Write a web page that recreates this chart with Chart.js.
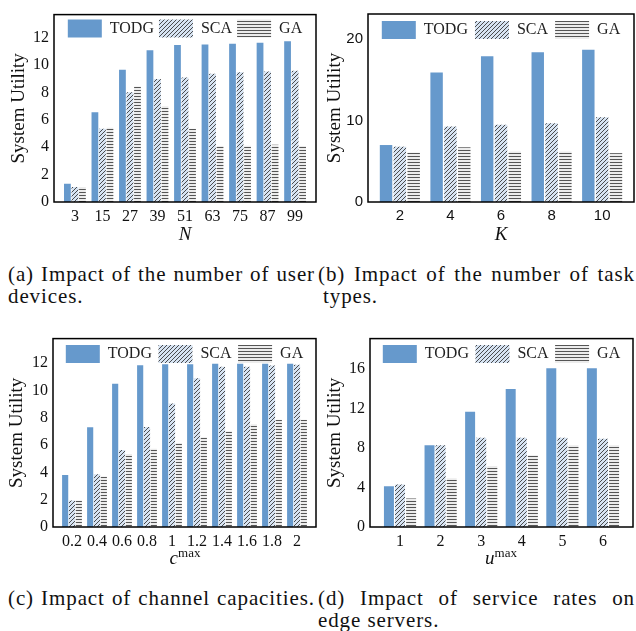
<!DOCTYPE html>
<html lang="en">
<head>
<meta charset="UTF-8">
<title>System Utility</title>
<script src="https://cdn.jsdelivr.net/npm/chart.js"></script>
<style>
  body, html { margin: 0; padding: 0; background: #fff; overflow: hidden; }
  canvas { position: absolute; }
  .cap {
    position: absolute;
    font-family: 'Liberation Serif', serif;
    font-size: 21px;
    line-height: 22px;
    letter-spacing: 0.9px;
    color: #111;
  }
  .cap .l1 { text-align: justify; text-align-last: justify; }
  .xt {
    position: absolute;
    width: 120px;
    text-align: center;
    font-family: 'Liberation Serif', serif;
    font-size: 19px;
    color: #111;
  }
  .xt i { font-style: italic; }
  .xt sup { font-size: 13px; font-style: normal; vertical-align: 7px; line-height: 0; }
</style>
</head>
<body>

<canvas id="chartA" width="318" height="246" style="left:0;top:0"></canvas>
<canvas id="chartB" width="318" height="246" style="left:318px;top:0"></canvas>
<canvas id="chartC" width="318" height="246" style="left:0;top:324px"></canvas>
<canvas id="chartD" width="318" height="246" style="left:318px;top:324px"></canvas>

<div class="xt" style="left:125px;top:547px"><i>c</i><sup>max</sup></div>
<div class="xt" style="left:441px;top:547px"><i>u</i><sup>max</sup></div>

<div class="cap" style="left:8px;top:263px;width:307px">
  <div class="l1">(a) Impact of the number of user</div>
  <div>devices.</div>
</div>
<div class="cap" style="left:318px;top:263px;width:317px">
  <div class="l1">(b) Impact of the number of task</div>
  <div style="padding-left:5px">types.</div>
</div>
<div class="cap" style="left:8px;top:587px;width:307px">
  <div class="l1">(c) Impact of channel capacities.</div>
</div>
<div class="cap" style="left:318px;top:587px;width:317px">
  <div class="l1">(d) Impact of service rates on</div>
  <div>edge servers.</div>
</div>

<script>
  const seriesNames = ['TODG', 'SCA', 'GA'];

  // (a) number of user devices
  const nLabels = ['3', '15', '27', '39', '51', '63', '75', '87', '99'];
  const nTodg = [1.33, 6.57, 9.66, 11.1, 11.47, 11.52, 11.57, 11.64, 11.76];
  const nSca  = [1.09, 5.36, 8.02, 9.0, 9.1, 9.37, 9.49, 9.54, 9.59];
  const nGa   = [1.1, 5.43, 8.45, 7.0, 5.36, 4.1, 4.12, 4.18, 4.1];

  // (b) number of task types
  const kLabels = ['2', '4', '6', '8', '10'];
  const kTodg = [7.0, 15.9, 17.9, 18.4, 18.7];
  const kSca  = [6.8, 9.28, 9.48, 9.68, 10.4];
  const kGa   = [6.08, 6.72, 6.2, 6.2, 6.0];

  // (c) channel capacities
  const cLabels = ['0.2', '0.4', '0.6', '0.8', '1', '1.2', '1.4', '1.6', '1.8', '2'];
  const cTodg = [3.8, 7.3, 10.5, 11.85, 11.93, 11.93, 11.95, 11.95, 11.95, 11.95];
  const cSca  = [1.94, 3.87, 5.64, 7.33, 9.05, 10.89, 11.73, 11.73, 11.83, 11.88];
  const cGa   = [1.94, 3.7, 5.35, 5.73, 6.15, 6.58, 7.02, 7.52, 7.86, 7.86];

  // (d) service rates on edge servers
  const uLabels = ['1', '2', '3', '4', '5', '6'];
  const uTodg = [4.14, 8.28, 11.69, 14.0, 16.1, 16.1];
  const uSca  = [4.31, 8.28, 9.05, 9.05, 9.05, 8.95];
  const uGa   = [2.9, 4.94, 6.18, 7.28, 8.28, 8.28];

  const SERIF = "'Liberation Serif', serif";
  const SANS = "'Liberation Sans', sans-serif";

  function diagPattern(ctx) {
    const t = document.createElement('canvas');
    t.width = 4; t.height = 4;
    const g = t.getContext('2d');
    g.fillStyle = '#d6e3f2';
    g.fillRect(0, 0, 4, 4);
    g.strokeStyle = '#3a3a3a';
    g.lineWidth = 0.9;
    g.beginPath();
    g.moveTo(-1, 5); g.lineTo(5, -1);
    g.moveTo(-1, 1); g.lineTo(1, -1);
    g.moveTo(3, 5); g.lineTo(5, 3);
    g.stroke();
    return ctx.createPattern(t, 'repeat');
  }

  function horizPattern(ctx) {
    const t = document.createElement('canvas');
    t.width = 4; t.height = 3;
    const g = t.getContext('2d');
    g.fillStyle = '#ececec';
    g.fillRect(0, 0, 4, 3);
    g.fillStyle = '#555';
    g.fillRect(0, 0, 4, 1);
    return ctx.createPattern(t, 'repeat');
  }

  // black box round the plot area
  const framePlugin = {
    id: 'frame',
    afterDraw(chart) {
      const { ctx, chartArea: a } = chart;
      ctx.save();
      ctx.strokeStyle = '#000';
      ctx.lineWidth = 1.5;
      ctx.strokeRect(a.left, a.top, a.right - a.left, a.bottom - a.top);
      ctx.restore();
    }
  };

  // legend sits inside the plot area but in one row, like matplotlib's upper-centre legend
  const rowLegend = {
    id: 'rowLegend',
    beforeLayout(chart) {
      if (chart.legend) chart.legend.isHorizontal = () => true;
    },
    afterLayout(chart) {
      const lg = chart.legend, a = chart.chartArea;
      if (!lg) return;
      lg.left = a.left;
      lg.right = a.right;
      lg.top = a.top;
      lg.bottom = a.top + lg.height;
    }
  };

  function makeChart(id, labels, todg, sca, ga, o) {
    const ctx = document.getElementById(id).getContext('2d');
    const fills = ['#6699cc', diagPattern(ctx), horizPattern(ctx)];
    const vals = [todg, sca, ga];
    const last = labels.length - 1;
    const tickFont = o.sans ? { family: SANS, size: 15 } : { family: SERIF, size: 16 };

    new Chart(ctx, {
      type: 'bar',
      data: {
        datasets: seriesNames.map((name, i) => ({
          label: name,
          data: vals[i].map((v, j) => ({ x: j, y: v })),
          backgroundColor: fills[i],
          borderWidth: 0,
          categoryPercentage: 0.82,
          barPercentage: 0.9
        }))
      },
      options: {
        responsive: false,
        animation: false,
        layout: { padding: { left: 0, top: o.top, right: o.right, bottom: 0 } },
        plugins: {
          tooltip: { enabled: false },
          legend: {
            position: 'chartArea',
            align: 'center',
            labels: {
              boxWidth: 34,
              boxHeight: 18,
              padding: o.legPad,
              color: '#222',
              font: { family: SERIF, size: 16 }
            }
          }
        },
        scales: {
          x: {
            type: 'linear',
            min: -o.pad,
            max: last + o.pad,
            offset: false,
            border: { display: false },
            grid: { display: false, drawTicks: false },
            ticks: {
              stepSize: 1,
              includeBounds: false,
              autoSkip: false,
              maxRotation: 0,
              padding: 5,
              color: '#111',
              font: tickFont,
              callback: v => labels[v] ?? ''
            },
            title: {
              display: !!o.xtitle,
              text: o.xtitle || '',
              color: '#111',
              padding: 0,
              font: { family: SERIF, size: 19, style: 'italic' }
            },
            afterFit(s) { s.height = o.xh; }
          },
          y: {
            min: 0,
            max: o.ymax,
            border: { display: false },
            grid: { display: false, drawTicks: false },
            ticks: {
              stepSize: o.step,
              includeBounds: false,
              padding: 5,
              color: '#111',
              font: tickFont
            },
            title: {
              display: true,
              text: 'System Utility',
              color: '#111',
              padding: { top: o.tpad, bottom: 0 },
              font: { family: SERIF, size: 19 }
            },
            afterFit(s) { s.width = o.left; }
          }
        }
      },
      plugins: [rowLegend, framePlugin]
    });
  }

  makeChart('chartA', nLabels, nTodg, nSca, nGa,
    { ymax: 13.7, step: 2, pad: 0.76, top: 12, right: 2, left: 54, xh: 44, tpad: 7.6, legPad: 5, xtitle: 'N' });
  makeChart('chartB', kLabels, kTodg, kSca, kGa,
    { ymax: 23.1, step: 10, pad: 0.63, top: 9, right: 2, left: 50, xh: 44, tpad: 5.3, legPad: 7, xtitle: 'K', sans: true });
  makeChart('chartC', cLabels, cTodg, cSca, cGa,
    { ymax: 13.8, step: 2, pad: 0.76, top: 12, right: 2, left: 53, xh: 43, tpad: 6.1, legPad: 6.5 });
  makeChart('chartD', uLabels, uTodg, uSca, uGa,
    { ymax: 19.1, step: 4, pad: 0.74, top: 12, right: 3, left: 52, xh: 43, tpad: 5.3, legPad: 6.5 });
</script>
</body>
</html>
